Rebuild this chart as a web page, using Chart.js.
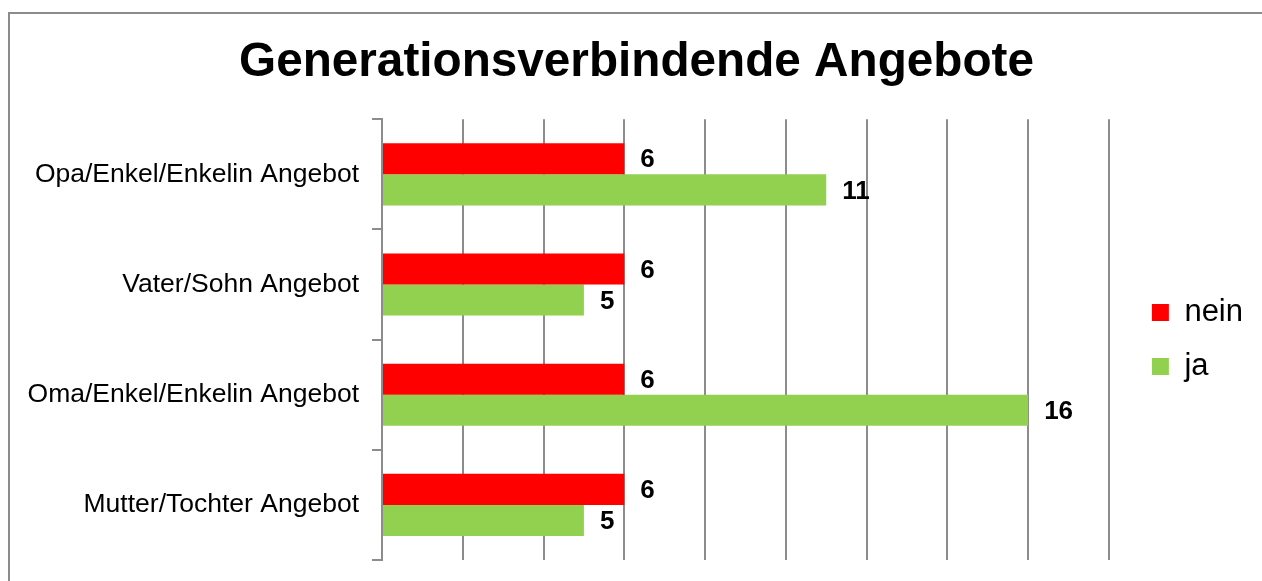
<!DOCTYPE html>
<html><head><meta charset="utf-8">
<script src="https://cdn.jsdelivr.net/npm/chart.js@4.4.0/dist/chart.umd.min.js"></script>
<style>
html,body{margin:0;padding:0;background:#fff;overflow:hidden}
#wrap{position:relative;width:1262px;height:581px;overflow:hidden}
#frame{position:absolute;left:8px;top:12px;width:1400px;height:800px;border-left:2px solid #8c8c8c;border-top:2px solid #8c8c8c;pointer-events:none}
canvas{display:block}
</style></head><body>
<div id="wrap"><canvas id="c" width="1262" height="581"></canvas><div id="frame"></div></div>
<script>
const titleText = 'Generationsverbindende Angebote';
const categories = ['Opa/Enkel/Enkelin Angebot', 'Vater/Sohn Angebot', 'Oma/Enkel/Enkelin Angebot', 'Mutter/Tochter Angebot'];
const seriesNames = ['nein', 'ja'];
const neinValues = [6, 6, 6, 6];
const jaValues = [11, 5, 16, 5];
const xMin = 0, xMax = 18, xStep = 2;

const FONT = "'Liberation Sans', Arial, sans-serif";
const GRID = '#8c8c8c';
const PAD_L = 20, PAD_R = 9;

const valueLabels = {
  id: 'valueLabels',
  afterDatasetsDraw(chart) {
    const ctx = chart.ctx;
    ctx.save();
    ctx.font = 'bold 26px ' + FONT;
    ctx.fillStyle = '#000';
    ctx.textAlign = 'left';
    ctx.textBaseline = 'middle';
    chart.data.datasets.forEach((ds, i) => {
      const meta = chart.getDatasetMeta(i);
      meta.data.forEach((el, j) => {
        ctx.fillText(String(ds.data[j]), el.x + 16, el.y + 1.5);
      });
    });
    ctx.restore();
  }
};

new Chart(document.getElementById('c'), {
  type: 'bar',
  data: {
    labels: categories,
    datasets: [
      { label: seriesNames[0], data: neinValues, backgroundColor: '#ff0000', categoryPercentage: 0.5636, barPercentage: 1 },
      { label: seriesNames[1], data: jaValues, backgroundColor: '#92d050', categoryPercentage: 0.5636, barPercentage: 1 }
    ]
  },
  options: {
    indexAxis: 'y',
    responsive: false,
    animation: false,
    layout: { padding: { left: PAD_L, right: PAD_R, top: 0, bottom: 21 } },
    scales: {
      x: {
        min: xMin, max: xMax,
        ticks: { display: false, stepSize: xStep },
        grid: { color: GRID, lineWidth: 2, drawTicks: false },
        border: { display: false }
      },
      y: {
        ticks: { color: '#000', font: { family: FONT, size: 26.5, lineHeight: 0.6 }, padding: 13 },
        grid: { drawOnChartArea: false, color: GRID, lineWidth: 2, tickLength: 10 },
        border: { display: true, color: GRID, width: 2 },
        afterFit(s) { s.width = 382 - PAD_L; }
      },
      gap: {
        axis: 'y', type: 'linear', position: 'right', display: true,
        ticks: { display: false }, grid: { display: false }, border: { display: false },
        afterFit(s) { s.width = 20; }
      }
    },
    plugins: {
      title: {
        display: true, text: titleText, color: '#000',
        font: { family: FONT, size: 47.7, weight: 'bold' },
        padding: { top: 34, bottom: 28 }
      },
      legend: {
        position: 'right',
        fullSize: false,
        labels: { color: '#000', font: { family: FONT, size: 31 }, boxWidth: 17, boxHeight: 17, padding: 23 }
      },
      tooltip: { enabled: false }
    }
  },
  plugins: [valueLabels]
});
</script>
</body></html>
